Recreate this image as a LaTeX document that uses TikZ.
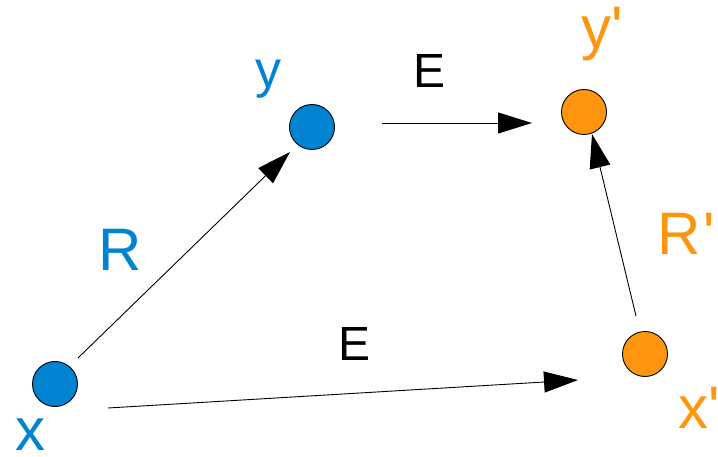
\documentclass[tikz,border=0pt]{standalone}
\usepackage{fontspec}
\setmainfont{Liberation Sans}
\usetikzlibrary{arrows.meta}
\definecolor{ptblue}{HTML}{0084D1}
\definecolor{ptorange}{HTML}{FF950E}
\begin{document}
\begin{tikzpicture}[x=1pt,y=-1pt,
  dot/.style={circle,draw=black,line width=0.9pt,minimum size=45pt,inner sep=0pt},
  lbl/.style={anchor=base west,inner sep=0pt,font=\fontsize{60}{60}\selectfont},
  elbl/.style={anchor=base west,inner sep=0pt,font=\fontsize{48}{48}\selectfont},
  conn/.style={line width=0.9pt,-{Triangle[length=34pt,width=21pt]}}]
\useasboundingbox (0,0) rectangle (718,457);

% points
\node[dot,fill=ptblue]   (x)  at (55,384)  {};
\node[dot,fill=ptblue]   (y)  at (312,127) {};
\node[dot,fill=ptorange] (yp) at (584,112) {};
\node[dot,fill=ptorange] (xp) at (645,354) {};

% labels
\node[lbl,text=ptblue]   (lx)  at (15,450) {x};
\node[lbl,text=ptblue,font=\fontsize{52}{52}\selectfont] (ly) at (255,88) {y};
\node[lbl,text=ptorange] (lyp) at (581,49)  {y\textquotesingle};
\node[lbl,text=ptorange] (lxp) at (678,428) {x\textquotesingle};
\node[lbl,text=ptblue]   (lR)  at (98,271)  {R};
\node[lbl,text=ptorange] (lRp) at (657,255) {R\kern3pt\textquotesingle};
\node[elbl]              (lE1) at (413,88)  {E};
\node[elbl]              (lE2) at (338,360) {E};

% connector ends
\coordinate (xyS) at (78,358);
\coordinate (xyT) at (290,152);
\coordinate (yyS) at (382,123);
\coordinate (yyT) at (532,123);
\coordinate (xxS) at (108,408);
\coordinate (xxT) at (578,380);
\coordinate (xyS2) at (636,316);
\coordinate (xyT2) at (592,134);

\draw[conn] (xyS) -- (xyT);
\draw[conn] (yyS) -- (yyT);
\draw[conn] (xxS) -- (xxT);
\draw[conn] (xyS2) -- (xyT2);
\end{tikzpicture}
\end{document}
